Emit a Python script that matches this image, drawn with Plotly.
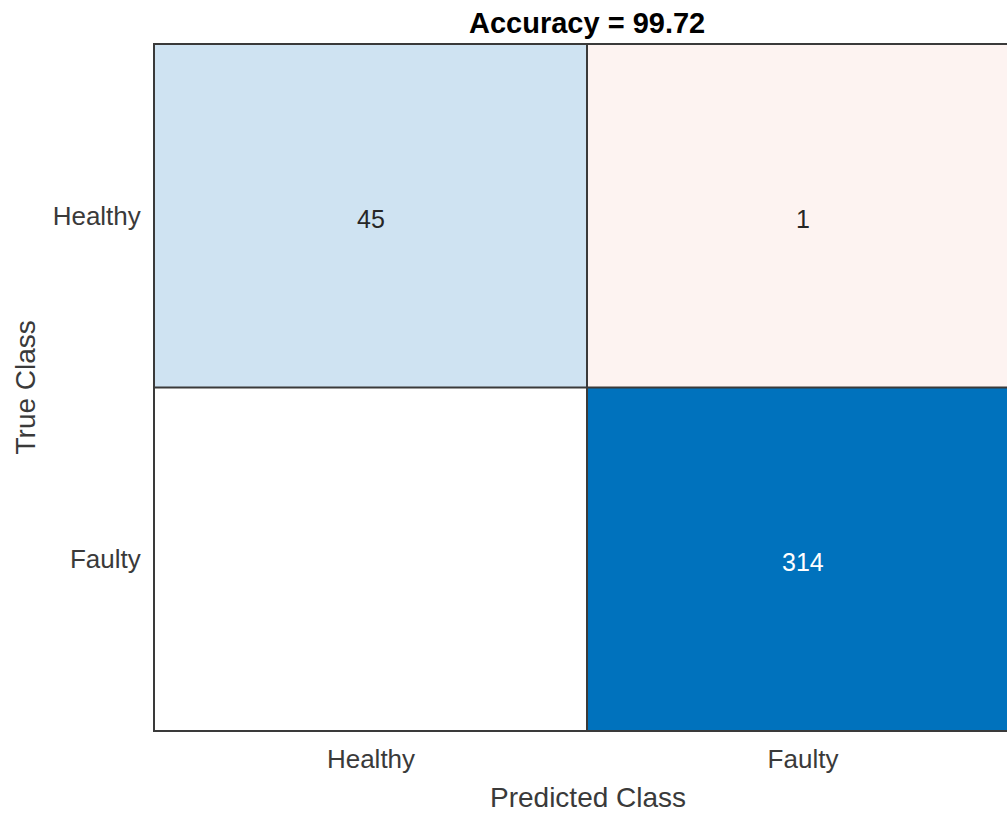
import plotly.graph_objects as go

classes = ["Healthy", "Faulty"]
counts = [[45, 1],
          [0, 314]]
title_text = "Accuracy = 99.72"

n = len(classes)
idx = list(range(n))

diag_z = [[counts[i][j] if i == j else None for j in idx] for i in idx]
off_z = [[counts[i][j] if (i != j and counts[i][j] > 0) else None for j in idx] for i in idx]
zero_z = [[0 if (i != j and counts[i][j] == 0) else None for j in idx] for i in idx]

max_diag = max(counts[i][i] for i in idx)

FONT = "Liberation Sans, Arial"
TXT = "#3a3a3a"
LINE = "#3a3a3a"

fig = go.Figure()
fig.add_trace(go.Heatmap(
    x=idx, y=idx, z=diag_z, zmin=0, zmax=max_diag,
    colorscale=[[0, "#ffffff"], [45 / 314, "#cfe3f2"], [1, "#0072bd"]],
    showscale=False, hoverinfo="skip"))
fig.add_trace(go.Heatmap(
    x=idx, y=idx, z=off_z, zmin=0, zmax=1,
    colorscale=[[0, "#ffffff"], [1, "#fdf3f1"]],
    showscale=False, hoverinfo="skip"))
fig.add_trace(go.Heatmap(
    x=idx, y=idx, z=zero_z, zmin=0, zmax=1,
    colorscale=[[0, "#ffffff"], [1, "#ffffff"]],
    showscale=False, hoverinfo="skip"))

annotations = []
for i in idx:
    for j in idx:
        v = counts[i][j]
        if v == 0:
            continue
        color = "#ffffff" if (i == j and v > 0.5 * max_diag) else "#262626"
        annotations.append(dict(x=j, y=i, xref="x", yref="y", text=str(v),
                                showarrow=False, yshift=-3,
                                font=dict(family=FONT, size=25, color=color)))

# titles
annotations.append(dict(x=(587 - 155) / 852, y=1, xref="paper", yref="paper",
                        yanchor="bottom", yshift=4, showarrow=False,
                        text="<b>" + title_text + "</b>",
                        font=dict(family=FONT, size=29, color="#000000")))
annotations.append(dict(x=(588 - 155) / 852, y=0, xref="paper", yref="paper",
                        yanchor="middle", yshift=-67, showarrow=False,
                        text="Predicted Class",
                        font=dict(family=FONT, size=28, color=TXT)))
annotations.append(dict(x=0, y=0.5, xref="paper", yref="paper",
                        xanchor="center", xshift=-130, showarrow=False, textangle=-90,
                        text="True Class",
                        font=dict(family=FONT, size=28, color=TXT)))

shapes = []
for k in range(1, n):
    shapes.append(dict(type="line", xref="x", yref="y", x0=k - 0.5, x1=k - 0.5,
                       y0=-0.5, y1=n - 0.5, line=dict(color=LINE, width=2)))
    shapes.append(dict(type="line", xref="x", yref="y", y0=k - 0.5, y1=k - 0.5,
                       x0=-0.5, x1=n - 0.5, line=dict(color=LINE, width=2)))

fig.update_layout(
    width=1007, height=813,
    margin=dict(l=155, r=0, t=45, b=83),
    paper_bgcolor="#ffffff", plot_bgcolor="#ffffff",
    annotations=annotations, shapes=shapes,
    showlegend=False,
)
fig.update_xaxes(range=[-0.5, -0.5 + 852 / 432], tickvals=idx, ticktext=classes,
                 showgrid=False, zeroline=False, showline=True, mirror=True,
                 linecolor=LINE, linewidth=2, ticks="", ticklabelstandoff=5,
                 tickfont=dict(family=FONT, size=26, color=TXT))
fig.update_yaxes(range=[n - 0.5, -0.5], tickvals=idx, ticktext=classes,
                 showgrid=False, zeroline=False, showline=True, mirror=False,
                 linecolor=LINE, linewidth=2, ticks="", ticklabelstandoff=7,
                 tickfont=dict(family=FONT, size=26, color=TXT))

fig.write_html("out.html",
               config={"displayModeBar": False},
               post_script="document.body.style.margin='0';document.body.style.overflow='hidden';")
